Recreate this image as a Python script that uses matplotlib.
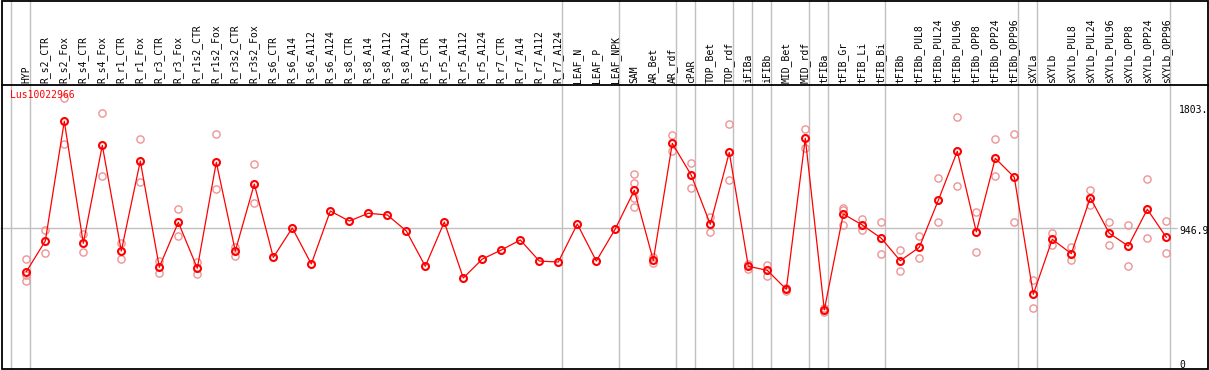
import matplotlib
matplotlib.use("Agg")
import matplotlib.pyplot as plt
import matplotlib.transforms as mtransforms
from matplotlib.patches import Rectangle
from matplotlib.lines import Line2D

# ---------------- data ----------------
gene_id = "Lus10022966"

samples = [
    "HYP", "R_s2_CTR", "R_s2_Fox", "R_s4_CTR", "R_s4_Fox", "R_r1_CTR", "R_r1_Fox",
    "R_r3_CTR", "R_r3_Fox", "R_r1s2_CTR", "R_r1s2_Fox", "R_r3s2_CTR", "R_r3s2_Fox",
    "R_s6_CTR", "R_s6_A14", "R_s6_A112", "R_s6_A124", "R_s8_CTR", "R_s8_A14",
    "R_s8_A112", "R_s8_A124", "R_r5_CTR", "R_r5_A14", "R_r5_A112", "R_r5_A124",
    "R_r7_CTR", "R_r7_A14", "R_r7_A112", "R_r7_A124", "LEAF_N", "LEAF_P", "LEAF_NPK",
    "SAM", "AR_Bet", "AR_rdf", "cPAR", "TOP_Bet", "TOP_rdf", "iFIBa", "iFIBb",
    "MID_Bet", "MID_rdf", "tFIBa", "tFIB_Gr", "tFIB_Li", "tFIB_Bi", "tFIBb",
    "tFIBb_PUL8", "tFIBb_PUL24", "tFIBb_PUL96", "tFIBb_OPP8", "tFIBb_OPP24",
    "tFIBb_OPP96", "sXYLa", "sXYLb", "sXYLb_PUL8", "sXYLb_PUL24", "sXYLb_PUL96",
    "sXYLb_OPP8", "sXYLb_OPP24", "sXYLb_OPP96",
]

means = [
    636, 853, 1700, 837, 1530, 782, 1419,
    667, 985, 660, 1410, 782, 1256,
    737, 945, 690, 1065, 994, 1049,
    1037, 924, 674, 987, 591, 725,
    789, 860, 711, 704, 973, 711, 938,
    1212, 716, 1544, 1318, 971, 1480, 674, 645,
    511, 1580, 365, 1044, 966, 872, 713,
    808, 1141, 1488, 917, 1438,
    1304, 476, 865, 763, 1159, 907,
    817, 1077, 879,
]

replicates = [
    [725, 612, 571], [931, 766], [1865, 1537], [900, 773], [1757, 1311], [841, 725], [1575, 1268],
    [711, 624], [1077, 886], [706, 617], [1608, 1219], [812, 749], [1396, 1120],
    [], [], [], [], [], [],
    [], [], [], [], [], [],
    [], [], [], [], [], [], [],
    [1325, 1261, 1157, 1096], [737, 695], [1601, 1490], [1403, 1226], [1025, 917], [1679, 1282], [690, 658], [683, 605],
    [522, 499], [1643, 1513], [377, 348], [1089, 1072, 966], [1009, 929], [987, 759], [789, 637],
    [886, 735], [1297, 985], [1733, 1240], [1056, 773], [1573, 1311],
    [1608, 988], [575, 377], [909, 822], [810, 720], [1212, 1108], [985, 822],
    [966, 674], [1289, 872], [992, 766],
]

group_starts = [0, 1, 29, 32, 35, 36, 38, 39, 40, 42, 43, 46, 53, 54, 61]

ref_value = 946.9
ytick_labels = ["1803.", "946.9", "0"]
ytick_values = [1803.0, 946.9, 0.0]

# ---------------- figure ----------------
W, H = 1209, 370
fig = plt.figure(figsize=(W / 100, H / 100), dpi=100)
ax = fig.add_axes([0, 0, 1, 1])
ax.set_axis_off()

# pixel geometry
x0_px, dx_px = 26.3, 19.0
y_zero_px, px_per_unit = 361.5, 0.1413
ax.set_xlim(-x0_px / dx_px, (W - x0_px) / dx_px)
ax.set_ylim(-(H - y_zero_px) / px_per_unit, y_zero_px / px_per_unit)

grey = "#c0c0c0"
mono = "DejaVu Sans Mono"

# group separators
for s in group_starts:
    ax.axvline(s - 15 / dx_px, color=grey, lw=1.0, zorder=1)

# reference line
ax.hlines(ref_value, ax.get_xlim()[0], (1177 - x0_px) / dx_px, color=grey, lw=1.0, zorder=1)

# replicate points
rx, ry = [], []
for i, reps in enumerate(replicates):
    for r in reps:
        rx.append(i)
        ry.append(r)
ax.plot(rx, ry, linestyle="none", marker="o", ms=5.2, mfc="none",
        mec="#ee9494", mew=1.0, zorder=2)

# mean line
xs = list(range(len(samples)))
ax.plot(xs, means, color="#ff0000", lw=0.9, marker="o", ms=5.0, mfc="none",
        mec="#ff0000", mew=1.5, zorder=3)

# header labels
blend = mtransforms.blended_transform_factory(ax.transData, ax.transAxes)
for i, name in enumerate(samples):
    ax.text(i, 1 - 83 / H, name, rotation=90, ha="center", va="bottom",
            fontsize=7, family=mono, color="black", transform=blend)

# y labels on right
blend_y = mtransforms.blended_transform_factory(ax.transAxes, ax.transData)
blend_y_up = mtransforms.offset_copy(blend_y, fig=fig, x=0, y=1.8, units="dots")
for lab, v in zip(ytick_labels, ytick_values):
    ax.text(1179 / W, v, lab, ha="left", va="top", fontsize=7, family=mono,
            color="black", transform=blend_y_up, clip_on=False)

# gene id
ax.text(9.7 / W, 1 - 90 / H, gene_id, ha="left", va="top", fontsize=7,
        family=mono, color="#ff0000", transform=ax.transAxes)

# borders
fig.add_artist(Rectangle((1.5 / W, 1 - 369 / H), (1207.5 - 1.5) / W, (369 - 0.8) / H,
                         transform=fig.transFigure, fill=False, ec="black", lw=1.3))
fig.add_artist(Line2D([1.5 / W, 1207.5 / W], [1 - 85 / H, 1 - 85 / H],
                      transform=fig.transFigure, color="black", lw=1.3))

fig.savefig("out.png", dpi=100)
